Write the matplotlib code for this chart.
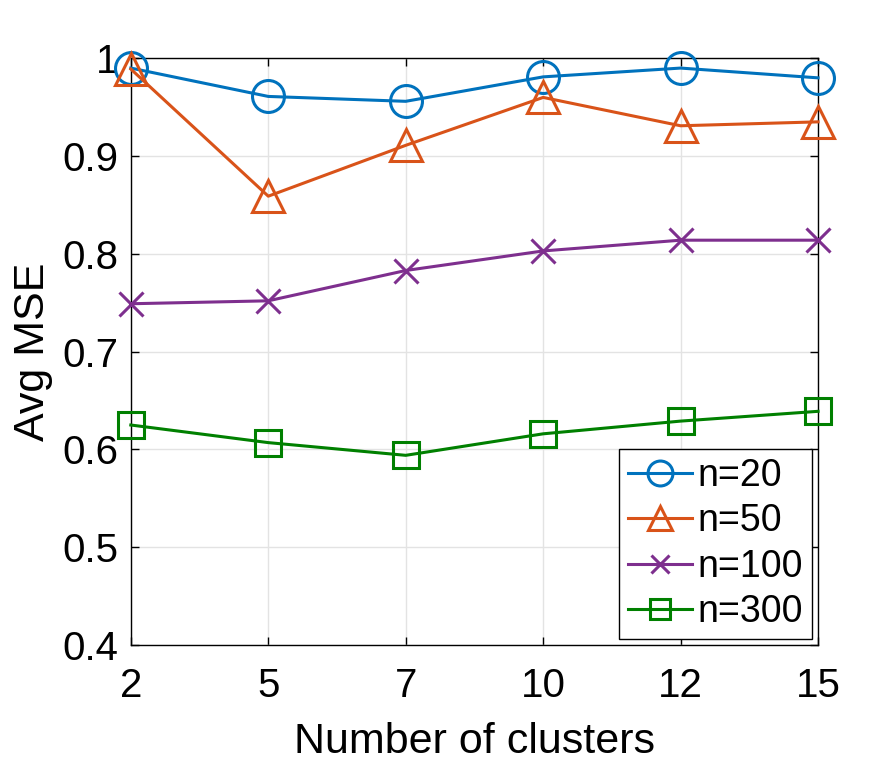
import matplotlib
matplotlib.use("Agg")
from matplotlib import pyplot as plt

plt.rcParams["font.family"] = ["Liberation Sans", "DejaVu Sans"]

clusters = ["2", "5", "7", "10", "12", "15"]
mse_n20 = [0.990, 0.961, 0.956, 0.981, 0.990, 0.980]
mse_n50 = [0.989, 0.859, 0.911, 0.960, 0.931, 0.935]
mse_n100 = [0.749, 0.752, 0.783, 0.803, 0.814, 0.814]
mse_n300 = [0.625, 0.607, 0.594, 0.616, 0.629, 0.639]
labels = ["n=20", "n=50", "n=100", "n=300"]

x = list(range(len(clusters)))

fig = plt.figure(figsize=(8.96, 7.67), dpi=100)
ax = fig.add_axes([0.146, 0.159, 0.767, 0.765])

style = dict(lw=2.2, mew=2.2, clip_on=False, zorder=3)
ax.plot(x, mse_n20, "-o", color="#0072BD", ms=23, mfc="none", label=labels[0], **style)
ax.plot(x, mse_n50, "-^", color="#D95319", ms=23, mfc="none", label=labels[1], **style)
ax.plot(x, mse_n100, "-x", color="#7E2F8E", ms=17, label=labels[2], **style)
ax.plot(x, mse_n300, "-s", color="#008000", ms=19, mfc="none", label=labels[3], **style)

ax.set_xlim(0, len(clusters) - 1)
ax.set_ylim(0.4, 1.0)
ax.set_xticks(x)
ax.set_xticklabels(clusters)
ax.set_yticks([0.4, 0.5, 0.6, 0.7, 0.8, 0.9, 1.0])
ax.set_yticklabels(["0.4", "0.5", "0.6", "0.7", "0.8", "0.9", "1"])
ax.tick_params(direction="in", top=True, right=True, labelsize=29, length=6, width=1)
ax.tick_params(axis="x", pad=16)
ax.tick_params(axis="y", pad=9)
ax.grid(True, color="#e3e3e3", lw=1)
ax.set_axisbelow(True)
for s in ax.spines.values():
    s.set_linewidth(1)
ax.set_xlabel("Number of clusters", fontsize=31, labelpad=12)
ax.set_ylabel("Avg MSE", fontsize=31, labelpad=7)

leg = ax.legend(loc="lower right", fontsize=27, fancybox=False, edgecolor="black",
                framealpha=1, borderaxespad=0.15, handlelength=1.7, handletextpad=0.15,
                labelspacing=0.25, borderpad=0.25, markerscale=0.78)
leg.get_frame().set_linewidth(1)
leg.set_zorder(5)

fig.savefig("out.png", dpi=100)
